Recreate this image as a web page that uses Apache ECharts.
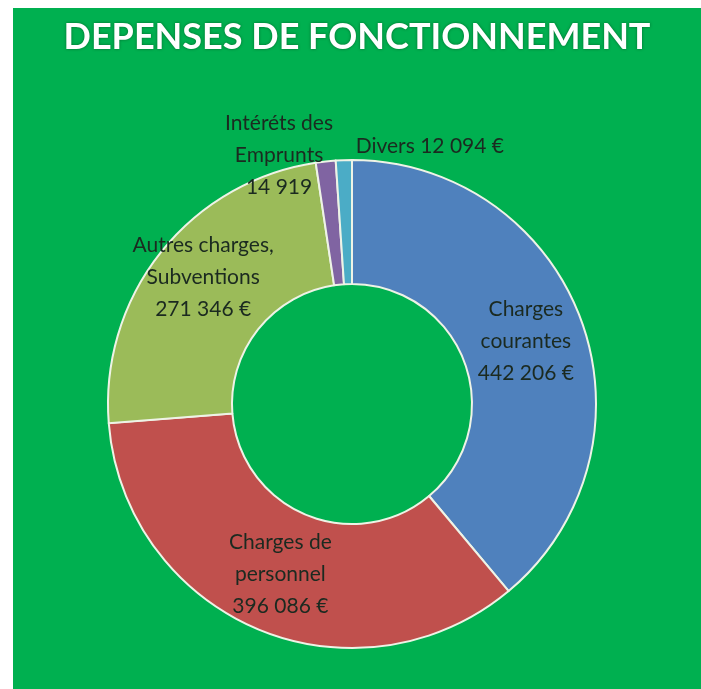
<!DOCTYPE html>
<html>
<head>
<meta charset="utf-8">
<script src="https://cdn.jsdelivr.net/npm/echarts@6/dist/echarts.min.js"></script>
<style>
  html, body { margin: 0; padding: 0; background: #fff; }
  #chart { position: absolute; left: 13px; top: 8px; width: 688px; height: 681px; }
</style>
</head>
<body>
<div id="chart"></div>
<script>
// postes de dépenses (ordre Excel, sens horaire depuis midi)
const categories = ['Charges\ncourantes', 'Charges de\npersonnel', 'Autres charges,\nSubventions', 'Intéréts des\nEmprunts', 'Divers'];
const values = [442206, 396086, 271346, 14919, 12094];
const valueLabels = ['442 206 €', '396 086 €', '271 346 €', '14 919', '12 094 €'];
const colors = ['#4f81bd', '#c0504d', '#9bbb59', '#8064a2', '#4bacc6'];

const chartDom = document.getElementById('chart');
const myChart = echarts.init(chartDom);

const font = 'Lato, "Open Sans", sans-serif';

const option = {
  backgroundColor: '#00b050',
  animation: false,
  title: {
    text: 'DEPENSES DE FONCTIONNEMENT',
    left: 'center',
    top: 6,
    textStyle: {
      color: '#fff',
      fontFamily: font,
      fontWeight: 'bold',
      fontSize: 36,
      textShadowColor: 'rgba(0,60,20,0.6)',
      textShadowBlur: 3
    }
  },
  series: [
    {
      type: 'pie',
      center: [339, 396],
      radius: [120, 244],
      startAngle: 90,
      clockwise: true,
      avoidLabelOverlap: false,
      itemStyle: {
        borderColor: '#eef3e6',
        borderWidth: 2
      },
      label: {
        position: 'inside',
        color: '#1b2a20',
        fontFamily: font,
        fontSize: 21,
        lineHeight: 32,
        formatter: (p) => {
          if (p.dataIndex === 4) return categories[4] + ' ' + valueLabels[4];
          return categories[p.dataIndex] + '\n' + valueLabels[p.dataIndex];
        }
      },
      labelLine: { show: false },
      labelLayout: (p) => {
        if (p.dataIndex === 2) return { dy: -12, dx: -4 };
        if (p.dataIndex === 3) return { dx: -53, dy: -65 };
        if (p.dataIndex === 4) return { dx: 84, dy: -73 };
        return {};
      },
      data: values.map((v, i) => ({
        value: v,
        name: categories[i],
        itemStyle: { color: colors[i] }
      }))
    }
  ]
};

myChart.setOption(option);
</script>
</body>
</html>
